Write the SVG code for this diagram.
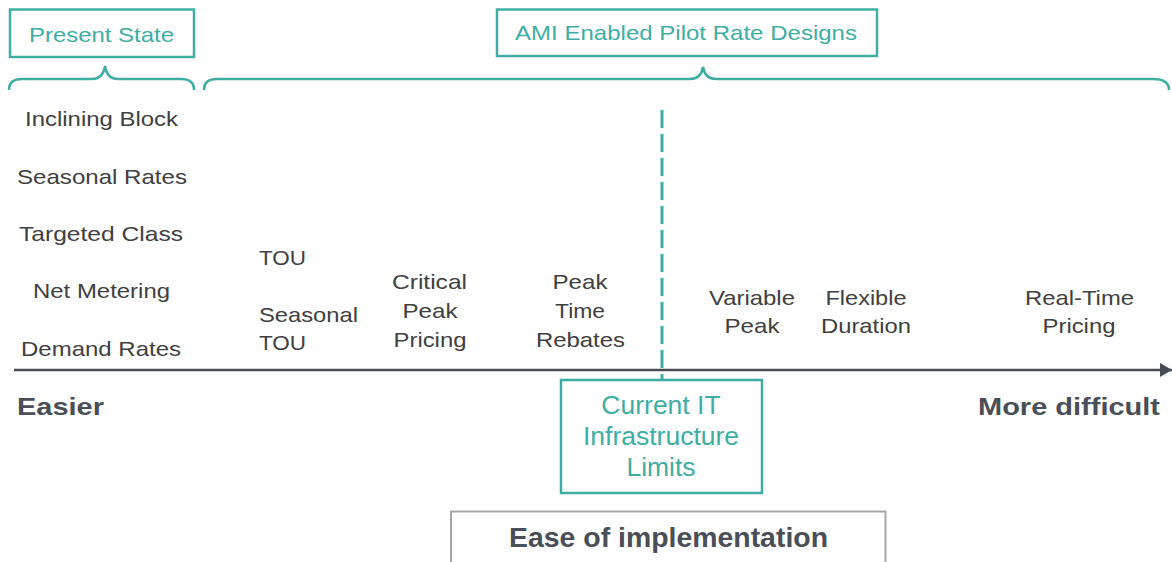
<svg xmlns="http://www.w3.org/2000/svg" width="1172" height="562" viewBox="0 0 1172 562">
<style>
.teal{fill:none;stroke:#40ada3;stroke-width:2.5}
.tt{font-family:"Liberation Sans",Arial,sans-serif;fill:#40ada3;text-anchor:middle}
.bt{font-family:"Liberation Sans",Arial,sans-serif;fill:#404040;font-size:21px;text-anchor:middle}
.bl{font-family:"Liberation Sans",Arial,sans-serif;fill:#4a4e57;font-weight:bold}
</style>
<defs>
<marker id="arr" markerWidth="12" markerHeight="14" refX="12" refY="7" orient="auto" markerUnits="userSpaceOnUse">
<path d="M0,0 L12,7 L0,14 Z" fill="#464b55"/>
</marker>
</defs>
<rect width="1172" height="562" fill="#ffffff"/>

<g id="present-state">
<rect class="teal" x="10" y="9.5" width="184" height="47.5"/>
<text class="tt" x="101.5" y="42" font-size="21" textLength="145" lengthAdjust="spacingAndGlyphs">Present State</text>
</g>
<g id="ami-pilot">
<rect class="teal" x="497" y="9.5" width="380" height="46.5"/>
<text class="tt" x="686" y="40" font-size="21" textLength="342" lengthAdjust="spacingAndGlyphs">AMI Enabled Pilot Rate Designs</text>
</g>

<g id="braces">
<path class="teal" d="M9,90 Q9,79 22,79 L92,79 Q103,79 105,66 Q107,79 118,79 L181,79 Q194,79 194,90"/>
<path class="teal" d="M204,90 Q204,79 217,79 L690,79 Q701,79 703,67 Q705,79 716,79 L1153,79 Q1169,79 1169,90"/>
</g>

<g id="present-list">
<text class="bt" x="101.5" y="126" textLength="153" lengthAdjust="spacingAndGlyphs">Inclining Block</text>
<text class="bt" x="102" y="184" textLength="170" lengthAdjust="spacingAndGlyphs">Seasonal Rates</text>
<text class="bt" x="101" y="241" textLength="164" lengthAdjust="spacingAndGlyphs">Targeted Class</text>
<text class="bt" x="101.5" y="298" textLength="137" lengthAdjust="spacingAndGlyphs">Net Metering</text>
<text class="bt" x="101" y="356" textLength="160" lengthAdjust="spacingAndGlyphs">Demand Rates</text>
</g>

<g id="tou">
<text class="bt" x="282.5" y="265" font-size="22" textLength="47" lengthAdjust="spacingAndGlyphs">TOU</text>
</g>
<g id="seasonal-tou">
<text class="bt" x="308.5" y="322" font-size="22" textLength="99" lengthAdjust="spacingAndGlyphs">Seasonal</text>
<text class="bt" x="282.5" y="350" font-size="22" textLength="47" lengthAdjust="spacingAndGlyphs">TOU</text>
</g>
<g id="critical-peak-pricing">
<text class="bt" x="429.5" y="289" font-size="22" textLength="75" lengthAdjust="spacingAndGlyphs">Critical</text>
<text class="bt" x="430" y="318" font-size="22" textLength="55" lengthAdjust="spacingAndGlyphs">Peak</text>
<text class="bt" x="430" y="347" font-size="22" textLength="73" lengthAdjust="spacingAndGlyphs">Pricing</text>
</g>
<g id="peak-time-rebates">
<text class="bt" x="580" y="289" font-size="22" textLength="55" lengthAdjust="spacingAndGlyphs">Peak</text>
<text class="bt" x="580" y="318" font-size="22" textLength="50" lengthAdjust="spacingAndGlyphs">Time</text>
<text class="bt" x="580.5" y="347" font-size="22" textLength="89" lengthAdjust="spacingAndGlyphs">Rebates</text>
</g>
<g id="variable-peak">
<text class="bt" x="752" y="305" font-size="22" textLength="86" lengthAdjust="spacingAndGlyphs">Variable</text>
<text class="bt" x="752" y="333" font-size="22" textLength="55" lengthAdjust="spacingAndGlyphs">Peak</text>
</g>
<g id="flexible-duration">
<text class="bt" x="866" y="305" font-size="22" textLength="81" lengthAdjust="spacingAndGlyphs">Flexible</text>
<text class="bt" x="866" y="333" font-size="22" textLength="90" lengthAdjust="spacingAndGlyphs">Duration</text>
</g>
<g id="real-time-pricing">
<text class="bt" x="1079.5" y="305" font-size="22" textLength="109" lengthAdjust="spacingAndGlyphs">Real-Time</text>
<text class="bt" x="1079" y="333" font-size="22" textLength="73" lengthAdjust="spacingAndGlyphs">Pricing</text>
</g>

<g id="connectors">
<line x1="662" y1="110" x2="662" y2="380" stroke="#40ada3" stroke-width="3" stroke-dasharray="18 6"/>
<line x1="14" y1="370" x2="1172" y2="370" stroke="#464b55" stroke-width="2.5" marker-end="url(#arr)"/>
</g>

<g id="easier">
<text class="bl" x="17" y="415" font-size="24" textLength="87" lengthAdjust="spacingAndGlyphs">Easier</text>
</g>
<g id="more-difficult">
<text class="bl" x="978" y="415" font-size="24" textLength="182" lengthAdjust="spacingAndGlyphs">More difficult</text>
</g>

<g id="it-limits">
<rect x="561" y="380" width="201" height="113" fill="#ffffff" stroke="#40ada3" stroke-width="2.5"/>
<text class="tt" x="661" y="414" font-size="26.5">Current IT</text>
<text class="tt" x="661" y="445" font-size="26.5">Infrastructure</text>
<text class="tt" x="661" y="476" font-size="26.5">Limits</text>
</g>

<g id="ease-label">
<rect x="451" y="511.5" width="434.5" height="70" fill="#ffffff" stroke="#a6a6a6" stroke-width="2"/>
<text class="bl" x="668.5" y="547" font-size="28" text-anchor="middle" textLength="319" lengthAdjust="spacingAndGlyphs">Ease of implementation</text>
</g>
</svg>
